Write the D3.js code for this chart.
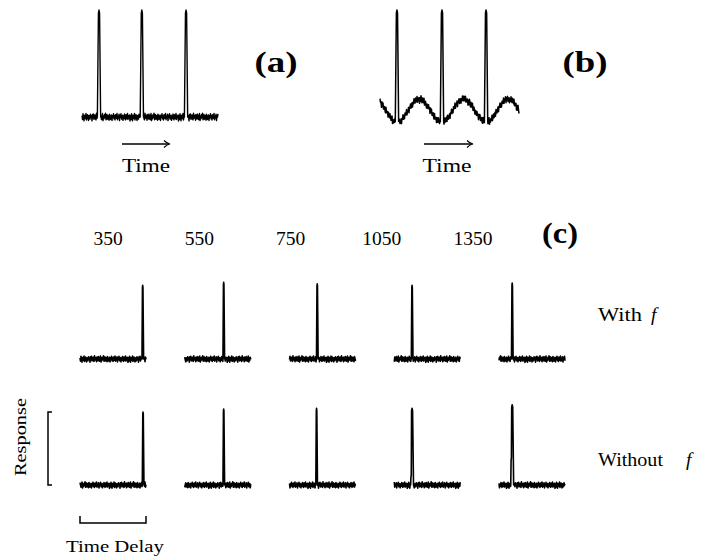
<!DOCTYPE html>
<html><head><meta charset="utf-8">
<script src="https://cdn.jsdelivr.net/npm/d3@7"></script>
<style>
html,body{margin:0;padding:0;background:#fff}
svg{display:block}
text{font-family:"Liberation Serif","Times New Roman",serif;fill:#000}
</style>
</head><body>
<svg id="chart" width="709" height="560"></svg>
<script>
// ---------------- data ----------------
const panelLabels = ["(a)", "(b)", "(c)"];
const timeLabel = "Time";
const delays = ["350", "550", "750", "1050", "1350"];
const rowLabels = ["With", "Without"];
const rowSymbol = "f";
const xAxisLabel = "Time Delay";
const yAxisLabel = "Response";

// panel (a) / (b): spike times (percent of trace) and spike height
const spikeTimesA = [12.5, 44, 76.5];
const spikeTimesB = [12.2, 44.6, 76.3];
const spikeHeightAB = 100;
// slow oscillation of panel (b), read every 5 % of the trace
const waveT = [0, 5, 10, 15, 20, 25, 30, 35, 40, 45, 50, 55, 60, 65, 70, 75, 80, 85, 90, 95, 100];
const waveB = [14.7, 4.3, -4.5, -3.9, 5.5, 15.5, 17.0, 8.9, -1.8, -5.5, 1.1, 12.1, 17.8, 13.0, 2.1, -5.2, -3.0, 7.7, 16.6, 16.1, 6.6];

// panel (c): spike position (fraction of delay window) and height
const spikeTimeWith = [0.95, 0.59, 0.42, 0.27, 0.20];
const spikeHeightWith = [1.01, 1.05, 1.03, 1.01, 1.04];
const spikeTimeWithout = [0.955, 0.59, 0.41, 0.27, 0.20];
const spikeHeightWithout = [1.0, 1.04, 1.05, 1.05, 1.10];
const shoulderWithout = [0, 0, 0, 0.12, 0.35];

// recorded noise texture (normalised)
const noise = [0.35,-0.62,0.81,-0.18,-0.93,0.47,0.12,-0.41,0.88,-0.73,0.21,0.58,-0.27,-0.84,0.39,0.04,-0.52,0.69,-0.09,0.31,
  -0.96,0.63,-0.22,0.77,-0.58,0.14,0.51,-0.37,-0.71,0.92,-0.29,0.18,0.44,-0.81,0.6,-0.13,-0.49,0.72,0.02,-0.64,
  0.28,0.85,-0.9,0.23,-0.43,0.54,-0.16,0.95,-0.68,0.09,0.62,-0.55,-0.31,0.41,-0.79,0.7,0.19,-0.6,-0.02,0.49,
  -0.87,0.33,-0.11,0.83,-0.47,0.26,-0.74,0.57,0.07,-0.35,0.9,-0.66,0.15,-0.24,0.67,-0.89,0.37,-0.05,0.79,-0.53,
  0.11,0.46,-0.83,0.24,-0.39,0.74,-0.15,-0.7,0.59,0.03,-0.45,0.86,-0.61,0.29,-0.2,0.52,-0.99];

// ---------------- drawing ----------------
const svg = d3.select("#chart");
svg.append("rect").attr("width", 709).attr("height", 560).attr("fill", "#fff");

function buildTrace(n, span, baseFn, spikes, amp, offset) {
  const pts = [];
  const sorted = spikes.slice().sort((a, b) => a.t - b.t);
  let si = 0;
  let i = 0;
  while (i <= n) {
    const t = span * i / n;
    if (si < sorted.length && sorted[si].t - sorted[si].hwUp <= t) {
      const s = sorted[si];
      const b0 = baseFn(s.t - s.hwUp), b1 = baseFn(s.t + s.hwDown);
      pts.push([s.t - s.hwUp, b0]);
      if (s.shoulder) {
        pts.push([s.t - s.hwUp * 0.75, b0 + s.shoulder]);
        pts.push([s.t - s.hwUp * 0.55, b0 + s.shoulder * 1.05]);
      }
      pts.push([s.t - s.hwUp * 0.35, s.h * 0.97]);
      pts.push([s.t, s.h]);
      pts.push([s.t + s.hwUp * 0.35, s.h * 0.97]);
      pts.push([s.t + s.hwDown, b1]);
      si++;
      while (i <= n && span * i / n <= s.t + s.hwDown) i++;
      continue;
    }
    pts.push([t, baseFn(t) + noise[(i + offset) % noise.length] * amp]);
    i++;
  }
  return pts;
}

function drawTrace(pts, xs, ys, sw) {
  svg.append("path")
    .attr("d", d3.line().x(d => xs(d[0])).y(d => ys(d[1]))(pts))
    .attr("fill", "none").attr("stroke", "#000")
    .attr("stroke-width", sw).attr("stroke-linejoin", "round");
}

// panels (a) and (b)
const xA = d3.scaleLinear().domain([0, 100]).range([82, 218]);
const xB = d3.scaleLinear().domain([0, 100]).range([380, 519]);
const yAB = d3.scaleLinear().domain([0, 100]).range([117, 10]);
const waveScale = d3.scaleLinear().domain(waveT).range(waveB);

const ptsA = buildTrace(272, 100, () => 0,
  spikeTimesA.map(t => ({t, h: spikeHeightAB, hwUp: 1.2, hwDown: 1.2})), 3.8, 0);
drawTrace(ptsA, xA, yAB, 1.4);

const ptsB = buildTrace(278, 100, t => waveScale(t),
  spikeTimesB.map(t => ({t, h: spikeHeightAB, hwUp: 1.2, hwDown: 1.2})), 3.6, 17);
drawTrace(ptsB, xB, yAB, 1.5);

// arrows and "Time"
function arrow(x1, x2, y) {
  svg.append("line").attr("x1", x1).attr("x2", x2 - 1).attr("y1", y).attr("y2", y)
    .attr("stroke", "#000").attr("stroke-width", 1.3);
  svg.append("path").attr("d", `M${x2 - 6},${y - 3.5} Q${x2 - 3},${y - 0.5} ${x2},${y} Q${x2 - 3},${y + 0.5} ${x2 - 6},${y + 3.5}`)
    .attr("fill", "none").attr("stroke", "#000").attr("stroke-width", 1.2);
}
arrow(122, 170, 144);
arrow(424, 473, 144);
svg.append("text").attr("x", 146).attr("y", 172).attr("text-anchor", "middle")
  .attr("font-size", 19).attr("textLength", 48).attr("lengthAdjust", "spacingAndGlyphs").text(timeLabel);
svg.append("text").attr("x", 447).attr("y", 172).attr("text-anchor", "middle")
  .attr("font-size", 19).attr("textLength", 49).attr("lengthAdjust", "spacingAndGlyphs").text(timeLabel);

// panel labels
const panelPos = [[276, 72, 43], [585, 72, 45], [560, 243, 36]];
panelLabels.forEach((l, i) => {
  svg.append("text").attr("x", panelPos[i][0]).attr("y", panelPos[i][1])
    .attr("text-anchor", "middle").attr("font-size", 29).attr("font-weight", "bold")
    .attr("textLength", panelPos[i][2]).attr("lengthAdjust", "spacingAndGlyphs").text(l);
});

// panel (c)
const colScale = d3.scalePoint().domain(delays).range([80, 499]);
const labelScale = d3.scalePoint().domain(delays).range([108, 473]);
const traceW = 66;
const rowBase = [359, 485];
const rowUnit = 73;
const rowY = rowBase.map(b => d3.scaleLinear().domain([0, 1]).range([b, b - rowUnit]));

svg.selectAll("text.delay").data(delays).join("text").attr("class", "delay")
  .attr("x", d => labelScale(d)).attr("y", 245).attr("text-anchor", "middle")
  .attr("font-size", 19.5).text(d => d);

const rows = [
  {times: spikeTimeWith, heights: spikeHeightWith, shoulders: [0, 0, 0, 0, 0]},
  {times: spikeTimeWithout, heights: spikeHeightWithout, shoulders: shoulderWithout}
];
rows.forEach((row, r) => {
  delays.forEach((d, c) => {
    const xs = d3.scaleLinear().domain([0, 1]).range([colScale(d), colScale(d) + traceW]);
    const sh = row.shoulders[c];
    const pts = buildTrace(132, 1, () => 0,
      [{t: row.times[c], h: row.heights[c], hwUp: sh ? 0.022 : 0.011, hwDown: sh ? 0.022 : 0.014,
        shoulder: sh}],
      0.046, 11 * c + 37 * r);
    drawTrace(pts, xs, rowY[r], 1.6);
  });
});

// row labels
const rowLabelY = [321, 466];
const symbolX = [651, 686];
rowLabels.forEach((l, i) => {
  svg.append("text").attr("x", 598).attr("y", rowLabelY[i]).attr("font-size", 19.5)
    .attr("textLength", i === 0 ? 44 : 65).attr("lengthAdjust", "spacingAndGlyphs").text(l);
  svg.append("text").attr("x", symbolX[i]).attr("y", rowLabelY[i]).attr("font-size", 19.5)
    .attr("font-style", "italic").text(rowSymbol);
});

// scale brackets
const xs0 = d3.scaleLinear().domain([0, 1]).range([colScale(delays[0]), colScale(delays[0]) + traceW]);
const yB = rowY[1];
svg.append("path")
  .attr("d", `M${52},${yB(1)} H48 V${yB(0)} H52`)
  .attr("fill", "none").attr("stroke", "#000").attr("stroke-width", 1.5);
svg.append("path")
  .attr("d", `M${xs0(0)},516 V523 H${xs0(1)} V516`)
  .attr("fill", "none").attr("stroke", "#000").attr("stroke-width", 1.5);
svg.append("text").attr("transform", "translate(26,437) rotate(-90)").attr("text-anchor", "middle")
  .attr("font-size", 16).attr("textLength", 78).attr("lengthAdjust", "spacingAndGlyphs").text(yAxisLabel);
svg.append("text").attr("x", 115).attr("y", 552).attr("text-anchor", "middle")
  .attr("font-size", 16).attr("textLength", 98).attr("lengthAdjust", "spacingAndGlyphs").text(xAxisLabel);
</script>
</body></html>
